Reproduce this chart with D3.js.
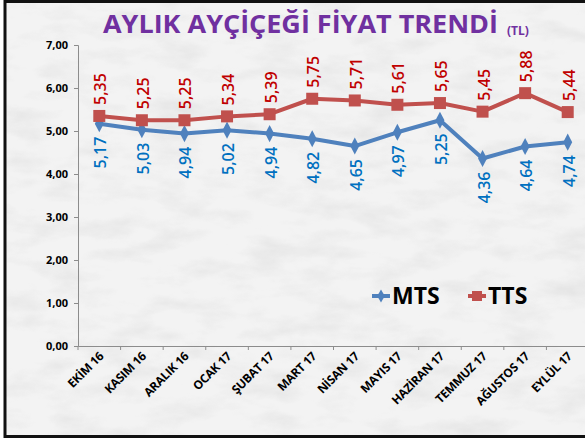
<!DOCTYPE html>
<html>
<head>
<meta charset="utf-8">
<script src="https://cdn.jsdelivr.net/npm/d3@7"></script>
<style>
    body { margin: 0; background: #fff; }
    svg { display: block; }
    .axis path, .axis line { stroke: #8c8c8c; }
    .axis text { font-family: "Open Sans", sans-serif; font-weight: bold; fill: #000; }
</style>
</head>
<body>
<svg id="chart" width="585" height="441"></svg>
<script>
// Chart data
const months = ["EKİM 16", "KASIM 16", "ARALIK 16", "OCAK 17", "ŞUBAT 17", "MART 17",
    "NİSAN 17", "MAYIS 17", "HAZİRAN 17", "TEMMUZ 17", "AĞUSTOS 17", "EYLÜL 17"];
const mts = [5.17, 5.03, 4.94, 5.02, 4.94, 4.82, 4.65, 4.97, 5.25, 4.36, 4.64, 4.74];
const tts = [5.35, 5.25, 5.25, 5.34, 5.39, 5.75, 5.71, 5.61, 5.65, 5.45, 5.88, 5.44];
const yTicks = [0, 1, 2, 3, 4, 5, 6, 7];

const svg = d3.select("#chart");
const fmt = d => d.toFixed(2).replace(".", ",");
const font = "'Open Sans', sans-serif";

// Marble-ish background
let defs = svg.append("defs");
let filt = defs.append("filter").attr("id", "marble")
    .attr("x", 0).attr("y", 0).attr("width", "100%").attr("height", "100%");
filt.append("feTurbulence").attr("type", "fractalNoise")
    .attr("baseFrequency", "0.02 0.05").attr("numOctaves", 4).attr("seed", 3);
filt.append("feColorMatrix").attr("type", "matrix")
    .attr("values", "0 0 0 0 0.6  0 0 0 0 0.6  0 0 0 0 0.6  0 0 0 -2.2 1.25");

svg.append("rect").attr("x", 5).attr("y", 1).attr("width", 600).attr("height", 436)
    .attr("fill", "#f3f3f3");
svg.append("rect").attr("x", 5).attr("y", 1).attr("width", 600).attr("height", 436)
    .attr("filter", "url(#marble)").attr("opacity", 0.3);
svg.append("rect").attr("x", 5).attr("y", 1.5).attr("width", 600).attr("height", 435)
    .attr("fill", "none").attr("stroke", "#111").attr("stroke-width", 3);

// Scales
const x = d3.scaleBand().domain(months).range([78, 589]);
const y = d3.scaleLinear().domain([0, 7]).range([346, 45]);
const cx = d => x(d) + x.bandwidth() / 2;

// Axes
svg.append("g").attr("class", "axis")
    .attr("transform", "translate(78,0)")
    .call(d3.axisLeft(y).tickValues(yTicks).tickFormat(fmt).tickSize(4).tickPadding(6))
    .call(g => g.selectAll("text").style("font-size", "11px"));

let xAxis = svg.append("g").attr("class", "axis")
    .attr("transform", "translate(0,346)")
    .call(d3.axisBottom(x).tickSize(0).tickFormat(""));
xAxis.selectAll(".sep")
    .data(d3.range(months.length + 1))
    .enter().append("line")
    .attr("class", "sep")
    .attr("x1", i => 78 + i * x.bandwidth()).attr("x2", i => 78 + i * x.bandwidth())
    .attr("y1", 0).attr("y2", 4);

svg.append("g").selectAll("text")
    .data(months)
    .enter().append("text")
    .attr("transform", d => `translate(${cx(d) + 5},${357}) rotate(-45)`)
    .attr("text-anchor", "end")
    .style("font-family", font)
    .style("font-weight", "bold")
    .style("font-size", "12px")
    .style("letter-spacing", "-0.3px")
    .text(d => d);

// Lines
const series = [
    {name: "MTS", values: mts, line: "#4f81bd", label: "#0070c0"},
    {name: "TTS", values: tts, line: "#c0504d", label: "#c00000"}
];
const lineGen = d3.line().x((d, i) => cx(months[i])).y(d => y(d));

series.forEach(s => {
    svg.append("path")
        .attr("d", lineGen(s.values))
        .attr("fill", "none")
        .attr("stroke", s.line)
        .attr("stroke-width", 4)
        .attr("stroke-linejoin", "round");
});

// Markers
svg.append("g").selectAll("path")
    .data(mts)
    .enter().append("path")
    .attr("d", d3.symbol().type(d3.symbolDiamond).size(70))
    .attr("transform", (d, i) => `translate(${cx(months[i])},${y(d)}) scale(1,1.1)`)
    .attr("fill", "#4f81bd");

svg.append("g").selectAll("rect")
    .data(tts)
    .enter().append("rect")
    .attr("x", (d, i) => cx(months[i]) - 6)
    .attr("y", d => y(d) - 6)
    .attr("width", 12).attr("height", 12)
    .attr("fill", "#c0504d");

// Data labels (rotated)
svg.append("g").selectAll("text")
    .data(tts)
    .enter().append("text")
    .attr("transform", (d, i) => `translate(${cx(months[i]) + 7},${y(d) - 11}) rotate(-90)`)
    .attr("text-anchor", "start")
    .style("font-family", font)
    .style("font-weight", 600)
    .style("font-size", "16px")
    .attr("fill", "#c00000")
    .text(fmt);

svg.append("g").selectAll("text")
    .data(mts)
    .enter().append("text")
    .attr("transform", (d, i) => `translate(${cx(months[i]) + 7},${y(d) + 13}) rotate(-90)`)
    .attr("text-anchor", "end")
    .style("font-family", font)
    .style("font-weight", 600)
    .style("font-size", "16px")
    .attr("fill", "#0070c0")
    .text(fmt);

// Title
svg.append("text")
    .attr("x", 103).attr("y", 33)
    .attr("textLength", 395).attr("lengthAdjust", "spacingAndGlyphs")
    .style("font-family", font)
    .style("font-weight", "bold")
    .style("font-size", "25px")
    .attr("fill", "#7030a0")
    .text("AYLIK AYÇİÇEĞİ FİYAT TRENDİ");

svg.append("text")
    .attr("x", 507).attr("y", 35)
    .style("font-family", font)
    .style("font-weight", "bold")
    .style("font-size", "12px")
    .attr("fill", "#7030a0")
    .text("(TL)");

// Legend
let legend = svg.append("g").attr("transform", "translate(372,296)");
legend.append("line").attr("x1", 0).attr("x2", 18).attr("stroke", "#4f81bd").attr("stroke-width", 4);
legend.append("path").attr("d", d3.symbol().type(d3.symbolDiamond).size(50))
    .attr("transform", "translate(9,0)").attr("fill", "#4f81bd");
legend.append("text").attr("x", 20).attr("y", 8)
    .style("font-family", font).style("font-weight", "bold")
    .style("font-size", "23px").text("MTS");
legend.append("line").attr("x1", 96).attr("x2", 114).attr("stroke", "#c0504d").attr("stroke-width", 4);
legend.append("rect").attr("x", 100).attr("y", -5).attr("width", 10).attr("height", 10).attr("fill", "#c0504d");
legend.append("text").attr("x", 116).attr("y", 8)
    .style("font-family", font).style("font-weight", "bold")
    .style("font-size", "23px").text("TTS");
</script>
</body>
</html>
